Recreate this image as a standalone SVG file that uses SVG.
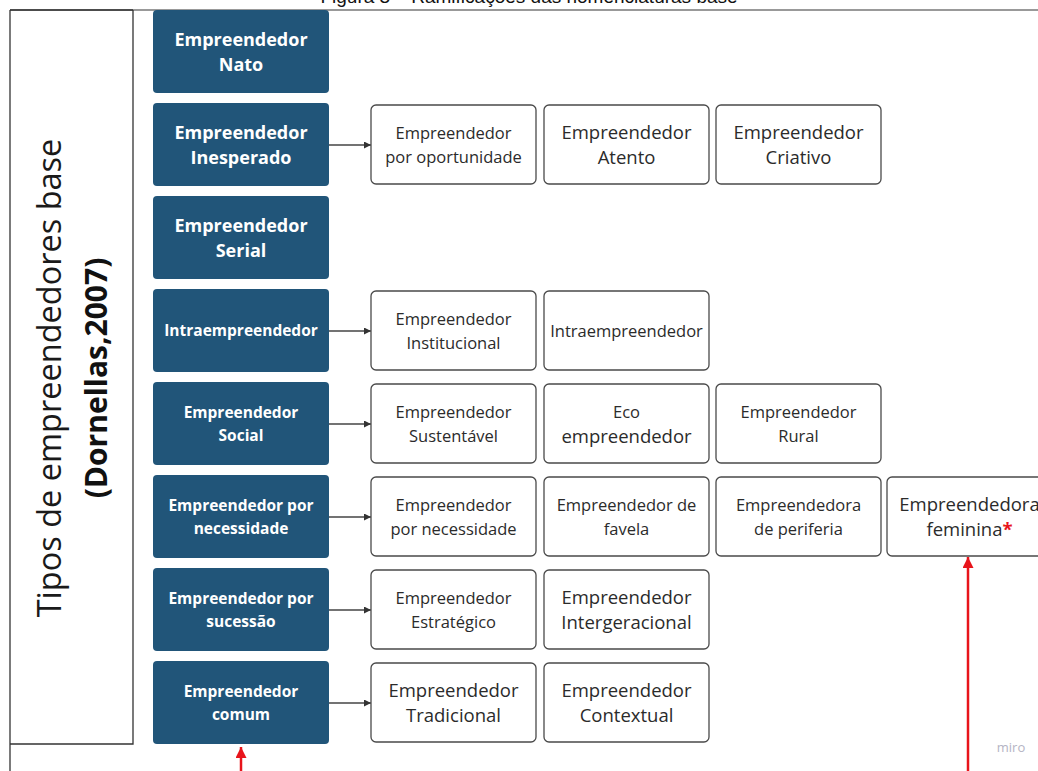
<svg xmlns="http://www.w3.org/2000/svg" width="1038" height="771" viewBox="0 0 1038 771">
<defs>
<marker id="ah" viewBox="0 0 10 10" refX="10" refY="5" markerWidth="7" markerHeight="7" markerUnits="userSpaceOnUse" orient="auto"><path d="M0,0 L10,5 L0,10 Z" fill="#333"/></marker>
<marker id="ahr" viewBox="0 0 10 10" refX="10" refY="5" markerWidth="11" markerHeight="11" markerUnits="userSpaceOnUse" orient="auto"><path d="M0,0 L10,5 L0,10 Z" fill="#e8141b"/></marker>
<style>
.dk{fill:#215579;}
.wb{fill:#fff;stroke:#4a4a4a;stroke-width:1.3;}
.tb{font-family:"Open Sans","Noto Sans",sans-serif;font-weight:700;fill:#fff;text-anchor:middle;}
.b18{font-size:18px;}
.b15{font-size:15.5px;}
.tw{font-family:"Open Sans","Noto Sans",sans-serif;fill:#2b2b2b;text-anchor:middle;}
.s{font-size:16.5px;}
.l{font-size:18.5px;}
.con{stroke:#444;stroke-width:1.3;fill:none;}
.red{stroke:#e8141b;stroke-width:2.5;fill:none;}
</style>
</defs>
<rect width="1038" height="771" fill="#fff"/>
<text x="529" y="3" font-family="Liberation Sans,Arial,sans-serif" font-size="19" text-anchor="middle" fill="#111">Figura 3 – Ramificações das nomenclaturas base</text>
<g id="frame">
<line x1="10" y1="10" x2="1038" y2="10" stroke="#777" stroke-width="1.5"/>
<line x1="10" y1="10" x2="133" y2="10" stroke="#333" stroke-width="1.5"/>
<line x1="10" y1="10" x2="10" y2="771" stroke="#333" stroke-width="1.3"/>
<polyline points="133,10 133,744 10,744" fill="none" stroke="#333" stroke-width="1.3"/>
</g>
<g id="title-vertical">
<text transform="translate(61,378) rotate(-90)" font-family="Open Sans,Noto Sans,sans-serif" font-size="32.5" text-anchor="middle" fill="#1a1a1a">Tipos de empreendedores base</text>
<text transform="translate(107,378) rotate(-90)" font-family="Open Sans,Noto Sans,sans-serif" font-size="30" font-weight="700" text-anchor="middle" fill="#111">(Dornellas,2007)</text>
</g>
<g id="connectors">
<line class="con" x1="329" y1="145" x2="371" y2="145" marker-end="url(#ah)"/>
<line class="con" x1="329" y1="331" x2="371" y2="331" marker-end="url(#ah)"/>
<line class="con" x1="329" y1="424" x2="371" y2="424" marker-end="url(#ah)"/>
<line class="con" x1="329" y1="517" x2="371" y2="517" marker-end="url(#ah)"/>
<line class="con" x1="329" y1="610" x2="371" y2="610" marker-end="url(#ah)"/>
<line class="con" x1="329" y1="703" x2="371" y2="703" marker-end="url(#ah)"/>
<line class="red" x1="241" y1="771" x2="241" y2="747" marker-end="url(#ahr)"/>
<line class="red" x1="968" y1="771" x2="968" y2="557" marker-end="url(#ahr)"/>
</g>
<g id="n-nato"><rect class="dk" x="153" y="10" width="176" height="83" rx="4"/><text class="tb b18" x="241" y="46">Empreendedor</text><text class="tb b18" x="241" y="71">Nato</text></g>
<g id="n-inesperado"><rect class="dk" x="153" y="103" width="176" height="83" rx="4"/><text class="tb b18" x="241" y="139">Empreendedor</text><text class="tb b18" x="241" y="164">Inesperado</text></g>
<g id="n-serial"><rect class="dk" x="153" y="196" width="176" height="83" rx="4"/><text class="tb b18" x="241" y="232">Empreendedor</text><text class="tb b18" x="241" y="257">Serial</text></g>
<g id="n-intra"><rect class="dk" x="153" y="289" width="176" height="83" rx="4"/><text class="tb b15" x="241" y="336">Intraempreendedor</text></g>
<g id="n-social"><rect class="dk" x="153" y="382" width="176" height="83" rx="4"/><text class="tb b15" x="241" y="418">Empreendedor</text><text class="tb b15" x="241" y="441">Social</text></g>
<g id="n-necessidade"><rect class="dk" x="153" y="475" width="176" height="83" rx="4"/><text class="tb b15" x="241" y="511">Empreendedor por</text><text class="tb b15" x="241" y="534">necessidade</text></g>
<g id="n-sucessao"><rect class="dk" x="153" y="568" width="176" height="83" rx="4"/><text class="tb b15" x="241" y="604">Empreendedor por</text><text class="tb b15" x="241" y="627">sucessão</text></g>
<g id="n-comum"><rect class="dk" x="153" y="661" width="176" height="83" rx="4"/><text class="tb b15" x="241" y="697">Empreendedor</text><text class="tb b15" x="241" y="720">comum</text></g>

<g id="w-oportunidade"><rect class="wb" x="371" y="105" width="165" height="79" rx="5"/><text class="tw s" x="453.5" y="139">Empreendedor</text><text class="tw s" x="453.5" y="163">por oportunidade</text></g>
<g id="w-atento"><rect class="wb" x="544" y="105" width="165" height="79" rx="5"/><text class="tw l" x="626.5" y="139">Empreendedor</text><text class="tw l" x="626.5" y="164">Atento</text></g>
<g id="w-criativo"><rect class="wb" x="716" y="105" width="165" height="79" rx="5"/><text class="tw l" x="798.5" y="139">Empreendedor</text><text class="tw l" x="798.5" y="164">Criativo</text></g>

<g id="w-institucional"><rect class="wb" x="371" y="291" width="165" height="79" rx="5"/><text class="tw s" x="453.5" y="325">Empreendedor</text><text class="tw s" x="453.5" y="349">Institucional</text></g>
<g id="w-intra"><rect class="wb" x="544" y="291" width="165" height="79" rx="5"/><text class="tw s" x="626.5" y="337">Intraempreendedor</text></g>

<g id="w-sustentavel"><rect class="wb" x="371" y="384" width="165" height="79" rx="5"/><text class="tw s" x="453.5" y="418">Empreendedor</text><text class="tw s" x="453.5" y="442">Sustentável</text></g>
<g id="w-eco"><rect class="wb" x="544" y="384" width="165" height="79" rx="5"/><text class="tw s" x="626.5" y="418">Eco</text><text class="tw l" x="626.5" y="443">empreendedor</text></g>
<g id="w-rural"><rect class="wb" x="716" y="384" width="165" height="79" rx="5"/><text class="tw s" x="798.5" y="418">Empreendedor</text><text class="tw s" x="798.5" y="442">Rural</text></g>

<g id="w-necessidade"><rect class="wb" x="371" y="477" width="165" height="79" rx="5"/><text class="tw s" x="453.5" y="511">Empreendedor</text><text class="tw s" x="453.5" y="535">por necessidade</text></g>
<g id="w-favela"><rect class="wb" x="544" y="477" width="165" height="79" rx="5"/><text class="tw s" x="626.5" y="511">Empreendedor de</text><text class="tw s" x="626.5" y="535">favela</text></g>
<g id="w-periferia"><rect class="wb" x="716" y="477" width="165" height="79" rx="5"/><text class="tw s" x="798.5" y="511">Empreendedora</text><text class="tw s" x="798.5" y="535">de periferia</text></g>
<g id="w-feminina"><rect class="wb" x="887" y="477" width="165" height="79" rx="5"/><text class="tw l" x="969.5" y="511">Empreendedora</text><text class="tw l" x="969.5" y="536">feminina<tspan fill="#e8141b" font-weight="700">*</tspan></text></g>

<g id="w-estrategico"><rect class="wb" x="371" y="570" width="165" height="79" rx="5"/><text class="tw s" x="453.5" y="604">Empreendedor</text><text class="tw s" x="453.5" y="628">Estratégico</text></g>
<g id="w-intergeracional"><rect class="wb" x="544" y="570" width="165" height="79" rx="5"/><text class="tw l" x="626.5" y="604">Empreendedor</text><text class="tw l" x="626.5" y="629">Intergeracional</text></g>

<g id="w-tradicional"><rect class="wb" x="371" y="663" width="165" height="79" rx="5"/><text class="tw l" x="453.5" y="697">Empreendedor</text><text class="tw l" x="453.5" y="722">Tradicional</text></g>
<g id="w-contextual"><rect class="wb" x="544" y="663" width="165" height="79" rx="5"/><text class="tw l" x="626.5" y="697">Empreendedor</text><text class="tw l" x="626.5" y="722">Contextual</text></g>

<text x="1011" y="752" font-family="Open Sans,Noto Sans,sans-serif" font-size="13" text-anchor="middle" fill="#b4b4c4">miro</text>
</svg>
